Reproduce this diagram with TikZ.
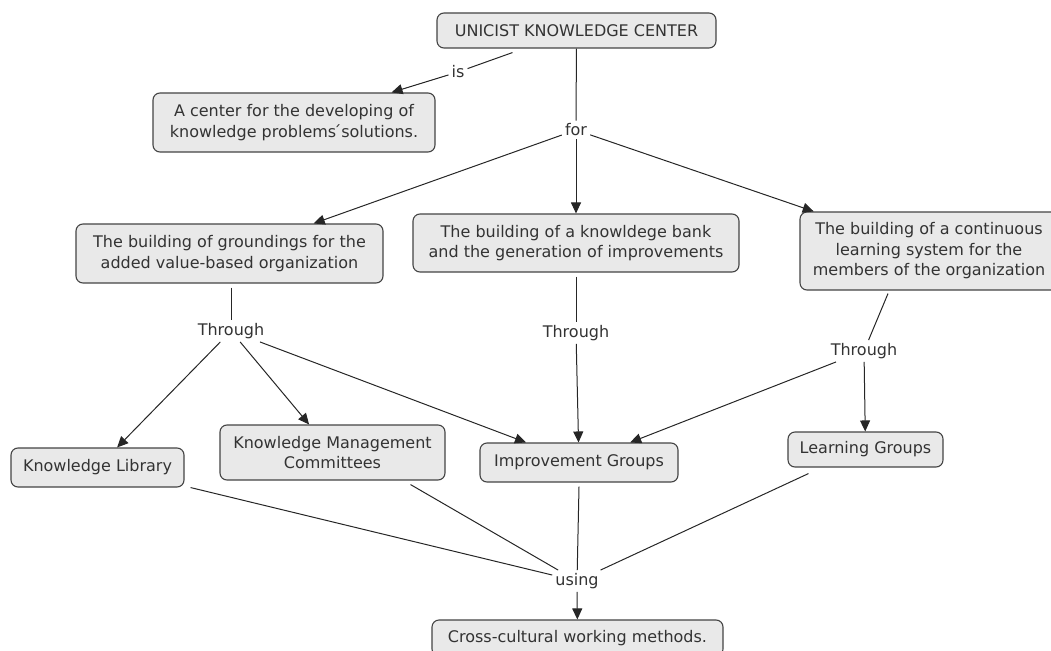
\documentclass[tikz,border=0pt]{standalone}
\usepackage{fontspec}
\setmainfont{DejaVu Sans}
\usetikzlibrary{arrows.meta,calc}
\definecolor{boxfill}{HTML}{E9E9E9}
\definecolor{boxline}{HTML}{444444}
\definecolor{txt}{HTML}{333333}
\begin{document}
\begin{tikzpicture}[x=1pt,y=-1pt,
  concept/.style={draw=boxline,fill=boxfill,line width=1.1pt,rounded corners=7pt,
    text=txt,align=center,font=\fontsize{16}{20.5}\selectfont,inner sep=0pt},
  lbl/.style={text=txt,font=\fontsize{16}{20}\selectfont,inner sep=3pt},
  link/.style={draw=black!85,line width=1pt},
  arr/.style={link,-{Triangle[length=11pt,width=10pt]}}]
\useasboundingbox (0,0) rectangle (1051,650);
\clip (0,0) rectangle (1051,650);
\node[concept,minimum width=279pt,minimum height=35pt] (top) at (576.5,30.5) {UNICIST KNOWLEDGE CENTER};
\node[concept,minimum width=282pt,minimum height=59pt] (A) at (294,122.5) {A center for the developing of\\knowledge problems\'{}solutions.};
\node[concept,minimum width=307pt,minimum height=59pt] (L1) at (229.5,253.5) {The building of groundings for the\\added value-based organization};
\node[concept,minimum width=326pt,minimum height=58pt] (C1) at (576,243) {The building of a knowldege bank\\and the generation of improvements};
\node[concept,minimum width=258pt,minimum height=78pt] (R1) at (929,251) {The building of a continuous\\learning system for the\\members of the organization};
\node[concept,minimum width=173pt,minimum height=39pt] (KL) at (97.5,467.5) {Knowledge Library};
\node[concept,minimum width=225pt,minimum height=55pt] (KMC) at (332.5,452.5) {Knowledge Management\\Committees};
\node[concept,minimum width=198pt,minimum height=39pt] (IG) at (579,462.5) {Improvement Groups};
\node[concept,minimum width=155pt,minimum height=35pt] (LG) at (865.5,449.5) {Learning Groups};
\node[concept,minimum width=291pt,minimum height=36pt] (CC) at (577.5,638) {Cross-cultural working methods.};

\node[lbl] (is) at (458,72) {is};
\node[lbl] (for) at (576,130) {for};
\node[lbl] (thL) at (231,331) {Through};
\node[lbl] (thC) at (576,333) {Through};
\node[lbl] (thR) at (864,351) {Through};
\node[lbl] (using) at (577,581) {using};

\draw[link] ($(top.south)+(-64,4)$) -- (is);
\draw[arr] (is) -- (A);
\draw[link] (top) -- (for);
\draw[arr] (for) -- (L1);
\draw[arr] (for) -- (C1);
\draw[arr] (for) -- (R1);
\draw[link] ($(L1.south -| thL)+(0,4)$) -- (thL);
\draw[link] ($(C1.south)+(0,4)$) -- (thC);
\draw[link] ($(R1.south)+(-41,3)$) -- (thR);
\draw[arr] (thL) -- (KL);
\draw[arr] (thL) -- (KMC);
\draw[arr] (thL) -- (IG);
\draw[arr] (thC) -- (IG);
\draw[arr] (thR) -- (IG);
\draw[arr] (thR) -- (LG);
\draw[link] ($(KL.south east)+(6,0)$) -- (using);
\draw[link] ($(KMC.south)+(78,4)$) -- (using);
\draw[link] ($(IG.south)+(0,4)$) -- (using);
\draw[link] ($(LG.south)+(-57,6)$) -- (using);
\draw[arr] (using) -- (CC);
\end{tikzpicture}
\end{document}
